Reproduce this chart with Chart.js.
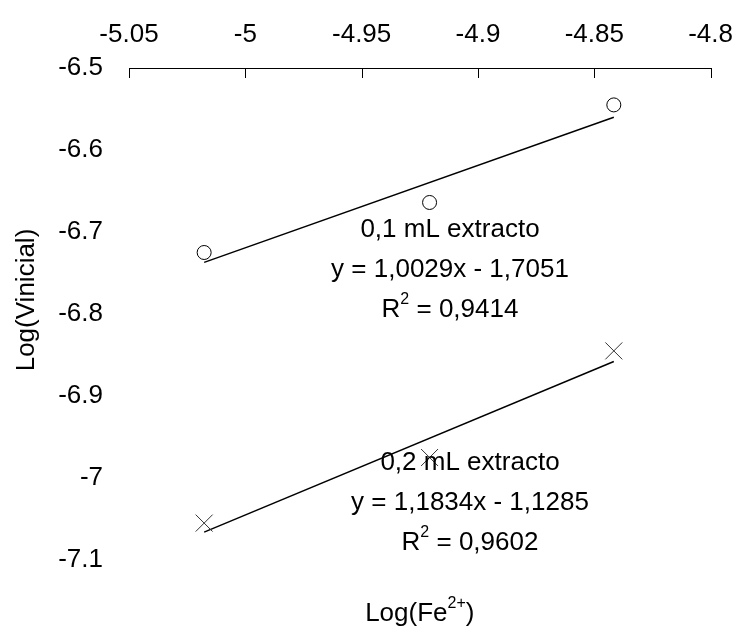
<!DOCTYPE html>
<html>
<head>
<meta charset="utf-8">
<script src="https://cdn.jsdelivr.net/npm/chart.js@4.4.1/dist/chart.umd.min.js"></script>
<style>
  html, body { margin: 0; padding: 0; background: #fff; }
  #wrap { width: 751px; height: 630px; }
</style>
</head>
<body>
<div id="wrap"><canvas id="chart" width="751" height="630"></canvas></div>
<script>
// data
const logFe = [-5.0177, -4.9208, -4.8416];
const vinicial01 = [-6.725, -6.664, -6.545];   // 0,1 mL extracto
const vinicial02 = [-7.055, -6.975, -6.845];   // 0,2 mL extracto
const fitX = [-5.0177, -4.8416];
const fit01 = [-6.737, -6.560];
const fit02 = [-7.066, -6.858];

const xTicks = [-5.05, -5, -4.95, -4.9, -4.85, -4.8];
const yTicks = [-6.5, -6.6, -6.7, -6.8, -6.9, -7, -7.1];

const annot01 = ['0,1 mL extracto', 'y = 1,0029x - 1,7051', '0,9414'];
const annot02 = ['0,2 mL extracto', 'y = 1,1834x - 1,1285', '0,9602'];

const FONT = '"Liberation Sans", Arial, sans-serif';
const FSIZE = 26;

function pts(xs, ys) {
    return xs.map((x, i) => ({ x: x, y: ys[i] }));
}

// draw a line of text pieces, some raised as superscript, centred on cx
function drawParts(ctx, parts, cx, cy) {
    let total = 0;
    parts.forEach(p => {
        ctx.font = (p.sup ? 16 : FSIZE) + 'px ' + FONT;
        p.w = ctx.measureText(p.t).width;
        total += p.w;
    });
    let x = cx - total / 2;
    ctx.textAlign = 'left';
    ctx.textBaseline = 'middle';
    parts.forEach(p => {
        ctx.font = (p.sup ? 16 : FSIZE) + 'px ' + FONT;
        ctx.fillText(p.t, x, p.sup ? cy - 10 : cy);
        x += p.w;
    });
}

function drawAnnot(ctx, lines, cx, cy) {
    drawParts(ctx, [{ t: lines[0] }], cx, cy);
    drawParts(ctx, [{ t: lines[1] }], cx, cy + 40);
    drawParts(ctx, [{ t: 'R' }, { t: '2', sup: true }, { t: ' = ' + lines[2] }], cx, cy + 80);
}

const extras = {
    id: 'extras',
    afterDraw(chart) {
        const ctx = chart.ctx;
        const xs = chart.scales.x;
        const area = chart.chartArea;
        ctx.save();
        // tick marks pointing down into the plot
        ctx.strokeStyle = '#000';
        ctx.lineWidth = 1;
        xTicks.forEach(v => {
            const px = Math.round(xs.getPixelForValue(v)) + 0.5;
            ctx.beginPath();
            ctx.moveTo(px, area.top);
            ctx.lineTo(px, area.top + 10);
            ctx.stroke();
        });
        ctx.fillStyle = '#000';
        drawAnnot(ctx, annot01, 450, 230);
        drawAnnot(ctx, annot02, 470, 463);
        // axis titles
        drawParts(ctx, [{ t: 'Log(Fe' }, { t: '2+', sup: true }, { t: ')' }], (area.left + area.right) / 2, 614);
        ctx.translate(27, 300);
        ctx.rotate(-Math.PI / 2);
        drawParts(ctx, [{ t: 'Log(Vinicial)' }], 0, 0);
        ctx.restore();
    }
};

new Chart(document.getElementById('chart'), {
    type: 'scatter',
    data: {
        datasets: [
            {
                label: '0,1 mL extracto',
                data: pts(logFe, vinicial01),
                pointStyle: 'circle',
                pointRadius: 7,
                pointBorderColor: '#000',
                pointBackgroundColor: '#fff',
                pointBorderWidth: 1
            },
            {
                label: '0,2 mL extracto',
                data: pts(logFe, vinicial02),
                pointStyle: 'crossRot',
                pointRadius: 12,
                pointBorderColor: '#333',
                pointBorderWidth: 1
            },
            {
                label: 'fit 0,1',
                data: pts(fitX, fit01),
                showLine: true,
                pointRadius: 0,
                borderColor: '#000',
                borderWidth: 1.5,
                order: 5
            },
            {
                label: 'fit 0,2',
                data: pts(fitX, fit02),
                showLine: true,
                pointRadius: 0,
                borderColor: '#000',
                borderWidth: 1.5,
                order: 5
            }
        ]
    },
    options: {
        responsive: false,
        animation: false,
        layout: { padding: { left: 0, top: 0, right: 29, bottom: 70 } },
        plugins: {
            legend: { display: false },
            tooltip: { enabled: false }
        },
        scales: {
            x: {
                position: 'top',
                min: -5.05,
                max: -4.8,
                afterFit: s => { s.height = 68; },
                afterBuildTicks: s => { s.ticks = xTicks.map(v => ({ value: v })); },
                grid: { display: false, drawTicks: false },
                border: { display: true, color: '#000', width: 1 },
                ticks: {
                    color: '#000',
                    padding: 18,
                    font: { family: FONT, size: FSIZE },
                    maxRotation: 0,
                    callback: v => String(+v.toFixed(2))
                }
            },
            y: {
                min: -7.1,
                max: -6.5,
                afterFit: s => { s.width = 129; },
                afterBuildTicks: s => { s.ticks = yTicks.map(v => ({ value: v })); },
                grid: { display: false, drawTicks: false },
                border: { display: false },
                ticks: {
                    color: '#000',
                    padding: 26,
                    font: { family: FONT, size: FSIZE },
                    callback: v => String(+v.toFixed(1))
                }
            }
        }
    },
    plugins: [extras]
});
</script>
</body>
</html>
